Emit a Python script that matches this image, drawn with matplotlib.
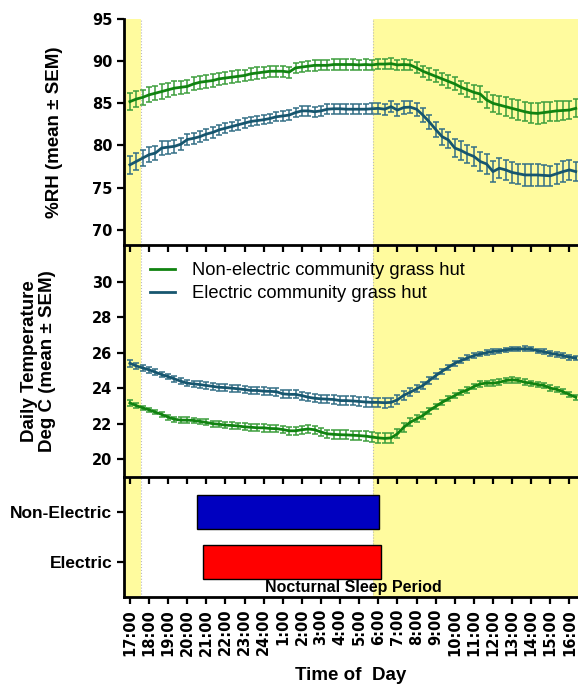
import numpy as np
import matplotlib
matplotlib.use('Agg')
import matplotlib.pyplot as plt
from matplotlib.lines import Line2D

# readings every 20 min starting at 17:00
rh_non = [85.2, 85.5, 85.7, 86.0, 86.2, 86.4, 86.6, 86.8, 86.9, 87.0,
          87.3, 87.5, 87.6, 87.7, 87.9, 88.0, 88.1, 88.2, 88.3, 88.5,
          88.6, 88.7, 88.8, 88.8, 88.8, 88.7, 89.2, 89.3, 89.4, 89.5,
          89.5, 89.5, 89.6, 89.6, 89.6, 89.6, 89.55, 89.6, 89.55, 89.65,
          89.65, 89.7, 89.55, 89.6, 89.55, 89.2, 88.8, 88.5, 88.2, 87.9,
          87.6, 87.3, 86.9, 86.6, 86.3, 86.1, 85.4, 85.0, 84.8, 84.6,
          84.4, 84.2, 84.0, 83.85, 83.8, 83.9, 84.0, 84.1, 84.15, 84.2,
          84.4]
rh_non_sem = [1.0, 0.95, 0.9, 0.9, 0.85, 0.85, 0.85, 0.8, 0.8, 0.8,
              0.78, 0.75, 0.75, 0.72, 0.72, 0.7, 0.7, 0.7, 0.68, 0.68,
              0.66, 0.65, 0.65, 0.65, 0.65, 0.65, 0.62, 0.62, 0.62, 0.62,
              0.6, 0.6, 0.6, 0.6, 0.6, 0.6, 0.6, 0.6, 0.6, 0.62,
              0.62, 0.62, 0.62, 0.64, 0.64, 0.66, 0.68, 0.7, 0.72, 0.74,
              0.76, 0.78, 0.8, 0.82, 0.85, 0.9, 0.95, 1.0, 1.05, 1.1,
              1.1, 1.15, 1.15, 1.2, 1.2, 1.2, 1.15, 1.15, 1.1, 1.1,
              1.05]
rh_elec = [77.7, 78.1, 78.5, 78.9, 79.1, 79.7, 79.8, 79.9, 80.15, 80.7,
           80.85, 81.05, 81.35, 81.55, 81.85, 82.05, 82.25, 82.45, 82.65, 82.85,
           82.95, 83.05, 83.2, 83.4, 83.5, 83.6, 83.9, 84.1, 84.1, 84.0,
           84.1, 84.3, 84.35, 84.35, 84.3, 84.3, 84.3, 84.3, 84.35, 84.4,
           84.3, 84.6, 84.2, 84.5, 84.55, 84.3, 83.6, 82.8, 81.9, 81.05,
           80.65, 79.7, 79.4, 79.0, 78.7, 78.1, 77.8, 76.9, 77.3, 77.1,
           76.8, 76.65, 76.5, 76.5, 76.5, 76.45, 76.4, 76.65, 76.9, 77.1,
           76.9]
rh_elec_sem = [1.05, 1.0, 0.95, 0.9, 0.85, 0.8, 0.78, 0.75, 0.72, 0.7,
               0.68, 0.66, 0.65, 0.62, 0.6, 0.6, 0.58, 0.58, 0.56, 0.56,
               0.55, 0.55, 0.55, 0.55, 0.56, 0.56, 0.58, 0.6, 0.6, 0.6,
               0.6, 0.62, 0.62, 0.62, 0.62, 0.62, 0.62, 0.62, 0.64, 0.64,
               0.66, 0.68, 0.7, 0.72, 0.75, 0.78, 0.8, 0.85, 0.9, 0.95,
               1.0, 1.05, 1.1, 1.1, 1.15, 1.15, 1.2, 1.2, 1.2, 1.2,
               1.2, 1.2, 1.25, 1.25, 1.25, 1.25, 1.2, 1.2, 1.2, 1.15,
               1.15]

temp_non = [23.17, 23.02, 22.89, 22.78, 22.65, 22.52, 22.37, 22.25, 22.2, 22.2,
            22.18, 22.13, 22.07, 22.0, 21.97, 21.92, 21.9, 21.87, 21.82, 21.8,
            21.77, 21.77, 21.73, 21.72, 21.67, 21.6, 21.6, 21.66, 21.7, 21.66,
            21.53, 21.43, 21.4, 21.38, 21.37, 21.35, 21.33, 21.3, 21.25, 21.2,
            21.17, 21.2, 21.43, 21.8, 22.08, 22.27, 22.46, 22.74, 22.97, 23.2,
            23.4, 23.58, 23.77, 23.9, 24.09, 24.24, 24.28, 24.28, 24.33, 24.43,
            24.47, 24.43, 24.33, 24.28, 24.2, 24.15, 24.0, 23.93, 23.8, 23.64,
            23.49]
temp_non_sem = [0.15, 0.14, 0.13, 0.13, 0.13, 0.13, 0.14, 0.14, 0.15, 0.15,
                0.16, 0.16, 0.17, 0.17, 0.18, 0.18, 0.19, 0.19, 0.2, 0.2,
                0.2, 0.21, 0.21, 0.21, 0.22, 0.22, 0.22, 0.23, 0.23, 0.23,
                0.24, 0.24, 0.25, 0.25, 0.25, 0.26, 0.26, 0.27, 0.27, 0.28,
                0.28, 0.28, 0.26, 0.24, 0.22, 0.2, 0.18, 0.17, 0.16, 0.16,
                0.15, 0.15, 0.15, 0.15, 0.15, 0.15, 0.15, 0.16, 0.16, 0.16,
                0.16, 0.16, 0.16, 0.15, 0.15, 0.15, 0.15, 0.15, 0.15, 0.15,
                0.15]
temp_elec = [25.4, 25.25, 25.14, 25.03, 24.9, 24.76, 24.65, 24.52, 24.39, 24.28,
             24.24, 24.2, 24.15, 24.1, 24.05, 24.03, 24.0, 23.96, 23.92, 23.87,
             23.87, 23.83, 23.82, 23.8, 23.68, 23.65, 23.65, 23.58, 23.49, 23.43,
             23.4, 23.38, 23.36, 23.3, 23.3, 23.28, 23.25, 23.22, 23.2, 23.2,
             23.18, 23.2, 23.34, 23.6, 23.77, 23.96, 24.15, 24.43, 24.7, 24.95,
             25.17, 25.4, 25.55, 25.7, 25.83, 25.92, 26.0, 26.07, 26.09, 26.15,
             26.2, 26.2, 26.22, 26.2, 26.1, 26.05, 25.96, 25.9, 25.83, 25.74,
             25.7]
temp_elec_sem = [0.2, 0.18, 0.16, 0.15, 0.15, 0.15, 0.15, 0.16, 0.16, 0.17,
                 0.17, 0.18, 0.18, 0.18, 0.19, 0.19, 0.2, 0.2, 0.2, 0.2,
                 0.21, 0.21, 0.21, 0.22, 0.22, 0.22, 0.22, 0.23, 0.23, 0.23,
                 0.24, 0.24, 0.24, 0.25, 0.25, 0.25, 0.25, 0.26, 0.26, 0.27,
                 0.27, 0.27, 0.26, 0.24, 0.22, 0.2, 0.18, 0.17, 0.16, 0.15,
                 0.15, 0.14, 0.14, 0.14, 0.13, 0.13, 0.13, 0.13, 0.13, 0.13,
                 0.13, 0.13, 0.13, 0.13, 0.13, 0.13, 0.13, 0.13, 0.13, 0.13,
                 0.13]

# sleep period, hours after 17:00
groups = ['Electric', 'Non-Electric']
sleep_on = [3.85, 3.5]
sleep_off = [13.15, 13.05]

# daylight: sunset and sunrise, hours after 17:00
sunset = 0.56
sunrise = 12.74

tick_labels = ['17:00', '18:00', '19:00', '20:00', '21:00', '22:00', '23:00', '24:00',
               '1:00', '2:00', '3:00', '4:00', '5:00', '6:00', '7:00', '8:00',
               '9:00', '10:00', '11:00', '12:00', '13:00', '14:00', '15:00', '16:00']

hours = np.arange(len(rh_non)) / 3.0

GREEN = '#118311'
GREEN_E = '#3c9e3c'
TEAL = '#17566f'
TEAL_E = '#336f86'
YELLOW = '#fffb9e'

plt.rcParams['font.family'] = ['Liberation Sans', 'DejaVu Sans']

fig = plt.figure(figsize=(5.78, 6.9), dpi=100)
ax1 = fig.add_axes([0.2145, 0.645, 0.7855, 0.3275])
ax2 = fig.add_axes([0.2145, 0.3087, 0.7855, 0.3348])
ax3 = fig.add_axes([0.2145, 0.1348, 0.7855, 0.1739])

for z, ax in zip([3, 2, 1], [ax1, ax2, ax3]):
    ax.set_zorder(z)
    ax.patch.set_visible(False)
    ax.axvspan(-1, sunset, color=YELLOW, lw=0, zorder=0)
    ax.axvspan(sunrise, 30, color=YELLOW, lw=0, zorder=0)
    ax.axvline(sunset, color='#bbbbbb', ls=':', lw=0.8, zorder=0.5)
    ax.axvline(sunrise, color='#bbbbbb', ls=':', lw=0.8, zorder=0.5)
    ax.set_xlim(-0.31, 23.45)
    ax.set_xticks(range(len(tick_labels)))
    for s in ['top', 'right']:
        ax.spines[s].set_visible(False)
    for s in ['left', 'bottom']:
        ax.spines[s].set_linewidth(2)
    ax.tick_params(direction='out', length=5, width=1.6)

def draw(ax, y, e, c, ec):
    ax.errorbar(hours, y, yerr=e, color=c, ecolor=ec, elinewidth=1.1,
                capsize=2.3, capthick=1.1, lw=2, zorder=3)

draw(ax1, rh_non, rh_non_sem, GREEN, GREEN_E)
draw(ax1, rh_elec, rh_elec_sem, TEAL, TEAL_E)
ax1.set_ylim(68.2, 95)
ax1.set_yticks([70, 75, 80, 85, 90, 95])
ax1.set_yticklabels(['70', '75', '80', '85', '90', '95'], fontweight='bold',
                    fontsize=10.5, family='DejaVu Sans')
ax1.set_xticklabels([])
ax1.set_ylabel('%RH (mean ± SEM)', fontsize=13.5, fontweight='bold')
ax1.yaxis.set_label_coords(-0.135, 0.5)

draw(ax2, temp_non, temp_non_sem, GREEN, GREEN_E)
draw(ax2, temp_elec, temp_elec_sem, TEAL, TEAL_E)
ax2.set_ylim(19, 32)
ax2.set_yticks([20, 22, 24, 26, 28, 30])
ax2.set_yticklabels(['20', '22', '24', '26', '28', '30'], fontweight='bold',
                    fontsize=10.5, family='DejaVu Sans')
ax2.set_xticklabels([])
ax2.set_ylabel('Daily Temperature\nDeg C (mean ± SEM)', fontsize=13.5,
               fontweight='bold', linespacing=1.05)
ax2.yaxis.set_label_coords(-0.15, 0.5)
handles = [Line2D([], [], color=GREEN, lw=2), Line2D([], [], color=TEAL, lw=2)]
ax2.legend(handles, ['Non-electric community grass hut', 'Electric community grass hut'],
           loc='upper left', bbox_to_anchor=(0.02, 1.0), frameon=False,
           fontsize=13.2, handlelength=1.4, handletextpad=0.9, labelspacing=0.3)

ypos = np.arange(len(groups))
ax3.barh(ypos, np.array(sleep_off) - np.array(sleep_on), left=sleep_on, height=0.67,
         color=['#ff0000', '#0000c0'], edgecolor='black', lw=1, zorder=3)
ax3.set_ylim(-0.7, 1.7)
ax3.set_yticks(ypos)
ax3.set_yticklabels(groups, fontsize=12.5, fontweight='bold')
ax3.set_xticklabels(tick_labels, rotation=90, fontsize=10.5, fontweight='bold',
                    family='DejaVu Sans')
ax3.text(11.7, -0.52, 'Nocturnal Sleep Period', ha='center', va='center',
         fontsize=11.5, fontweight='bold', zorder=4)
ax3.set_xlabel('Time of  Day', fontsize=13.5, fontweight='bold', labelpad=8)

fig.savefig('out.png', dpi=100)
